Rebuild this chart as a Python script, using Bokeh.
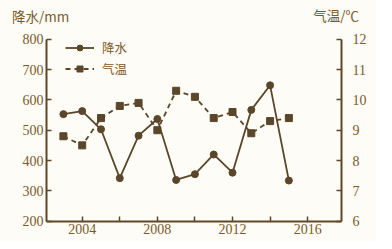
from bokeh.plotting import figure
from bokeh.models import Range1d, LinearAxis, FixedTicker, Label, Legend, LegendItem
from bokeh.embed import file_html
from bokeh.resources import INLINE

years = [2003, 2004, 2005, 2006, 2007, 2008, 2009, 2010, 2011, 2012, 2013, 2014, 2015]
precip = [553, 563, 503, 342, 482, 537, 336, 355, 420, 360, 567, 648, 334]
temp = [8.8, 8.5, 9.4, 9.8, 9.9, 9.0, 10.3, 10.1, 9.4, 9.6, 8.9, 9.3, 9.4]

x_ticks = [2004, 2006, 2008, 2010, 2012, 2014, 2016]
x_labels = {2004: "2004", 2006: "", 2008: "2008", 2010: "", 2012: "2012", 2014: "", 2016: "2016"}
p_ticks = [200, 300, 400, 500, 600, 700, 800]
t_ticks = [6, 7, 8, 9, 10, 11, 12]

LINE = "#5a462a"
TEXT = "#7a5a2a"
AX = "#5e4626"
BG = "#fefcf6"

# axis positions in data space
X0, X1 = 2002.1, 2017.8
P0, P1 = 200, 800
T0, T1 = 6, 12

p = figure(width=376, height=241, x_range=Range1d(1999.652, 2019.663),
           y_range=Range1d(133.1, 927.6),
           output_backend="svg", toolbar_location=None,
           min_border_left=0, min_border_right=0, min_border_top=0, min_border_bottom=0,
           background_fill_color=BG, border_fill_color=BG)
p.outline_line_color = None
p.grid.visible = False
p.extra_y_ranges = {"temp": Range1d(5.331, 13.276)}


def style(ax, font):
    ax.axis_line_color = AX
    ax.axis_line_width = 2
    ax.major_tick_line_color = AX
    ax.major_tick_line_width = 1.5
    ax.major_tick_in = 5
    ax.major_tick_out = 0
    ax.minor_tick_line_color = None
    ax.major_label_text_font = font
    ax.major_label_text_font_size = "14px"
    ax.major_label_text_color = TEXT


xa = p.xaxis[0]
style(xa, "Liberation Serif")
xa.ticker = FixedTicker(ticks=x_ticks)
xa.major_label_overrides = x_labels
xa.major_label_standoff = 3
xa.fixed_location = P0
xa.bounds = (X0, X1)

ya = p.yaxis[0]
style(ya, "Liberation Serif")
ya.ticker = FixedTicker(ticks=p_ticks)
ya.major_label_standoff = 3
ya.fixed_location = X0
ya.bounds = (P0, P1)

rax = LinearAxis(y_range_name="temp", ticker=FixedTicker(ticks=t_ticks))
style(rax, "Liberation Sans Narrow")
rax.major_label_standoff = 11
rax.fixed_location = X1
rax.bounds = (T0, T1)
p.add_layout(rax, "right")

pl = p.line(years, precip, line_color=LINE, line_width=1.8)
ps = p.scatter(years, precip, marker="circle", size=7, fill_color=LINE, line_color=LINE)
tl = p.line(years, temp, line_color=LINE, line_width=1.8, line_dash="5 4", y_range_name="temp")
ts = p.scatter(years, temp, marker="square", size=7, fill_color=LINE, line_color=LINE,
               y_range_name="temp")

legend = Legend(items=[LegendItem(label="降水", renderers=[pl, ps]),
                       LegendItem(label="气温", renderers=[tl, ts])],
                location=(65, 163), glyph_width=29, glyph_height=15, label_height=15,
                label_standoff=8, spacing=2, padding=0, margin=0,
                border_line_alpha=0, background_fill_alpha=0,
                label_text_font="Noto Sans CJK SC", label_text_font_size="12.5px",
                label_text_color=TEXT)
p.add_layout(legend)

p.add_layout(Label(x=2000.264, y=876.5, text="降水/mm", text_font="Noto Sans CJK SC",
                   text_font_size="13.5px", text_color=TEXT, text_baseline="middle"))
p.add_layout(Label(x=2016.3, y=879.8, text="气温/℃", text_font="Noto Sans CJK SC",
                   text_font_size="13.5px", text_color=TEXT, text_baseline="middle"))

open("out.html", "w").write(file_html(p, INLINE))
